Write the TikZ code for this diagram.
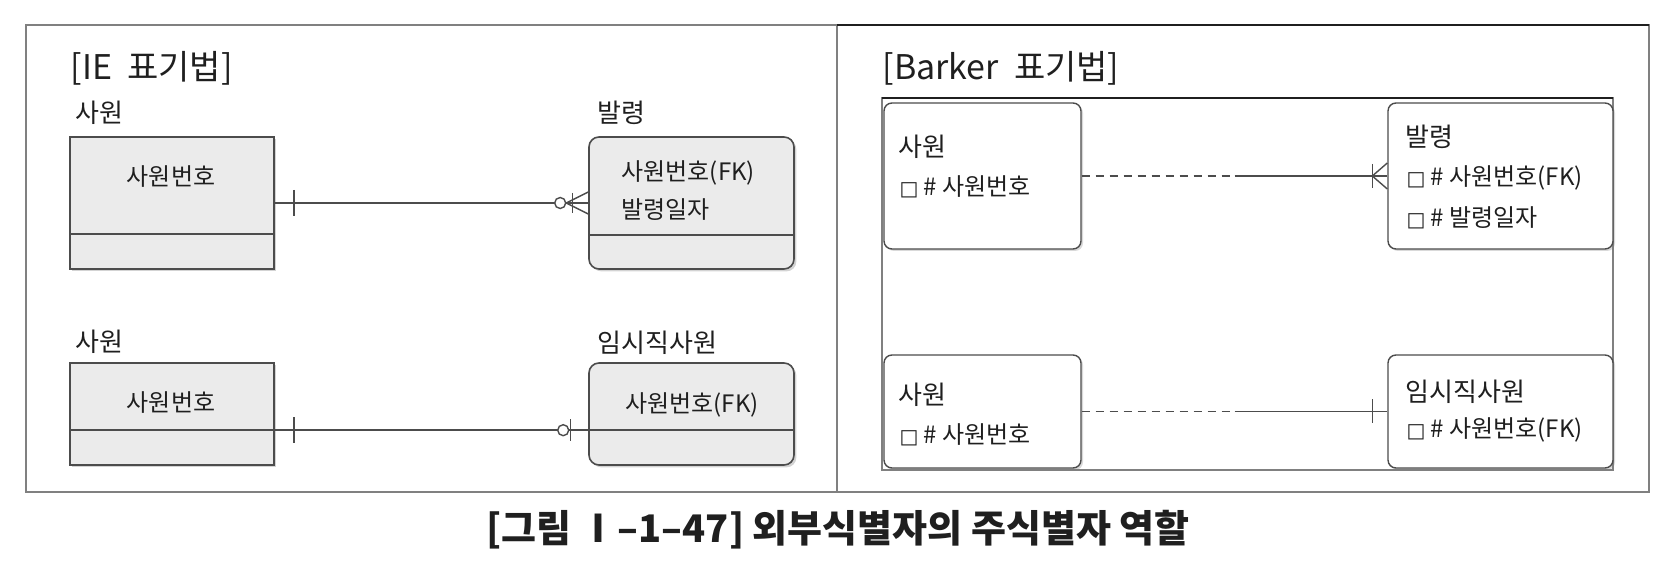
\documentclass[tikz,border=0pt]{standalone}
\usepackage{fontspec}
\setmainfont{Noto Sans CJK KR}
\newfontfamily\boxglyph{DejaVu Sans}
\usetikzlibrary{calc,positioning,shadows}
\definecolor{ink}{gray}{0.12}
\definecolor{edge}{gray}{0.30}
\definecolor{rule}{gray}{0.50}
\definecolor{shade}{gray}{0.92}
\newcommand{\opt}{{\boxglyph\fontsize{10}{12}\selectfont □}}

\tikzset{
  iebox/.style={draw=edge, fill=shade, line width=0.8pt, inner sep=0pt,
    minimum width=102pt, drop shadow={shadow xshift=1.2pt, shadow yshift=-1.2pt, opacity=0.35}},
  barkerbox/.style={draw=edge, fill=white, rounded corners=4pt, line width=0.7pt, inner sep=0pt,
    drop shadow={shadow xshift=1pt, shadow yshift=-1pt, opacity=0.3}},
  entname/.style={anchor=west, inner sep=0pt, font=\fontsize{13}{15}\selectfont, text=ink},
  attr/.style={inner sep=0pt, font=\fontsize{12}{14}\selectfont, text=ink},
  paneltitle/.style={anchor=west, inner sep=0pt, font=\fontsize{17}{20}\selectfont, text=ink},
  rel/.style={draw=edge, line width=0.7pt},
}

\begin{document}
\begin{tikzpicture}[x=0.5pt, y=-0.5pt, line width=0.6pt]
  \useasboundingbox (0,0) rectangle (1676,566);
  % outer frame
  \draw[rule] (26,25) rectangle (1649,492);
  \draw[rule] (837,25) -- (837,492);
  \draw[ink, line width=1.2pt] (837,25) -- (1649,25);

  % IE notation
  \node[paneltitle] (ietitle) at (70,68) {[IE\hspace{0.45em}표기법]};
  \node[entname] (emp1name) at (75,113) {사원};
  \node[entname] (issuename) at (597,113) {발령};
  \node[iebox, minimum height=66pt] (emp1) at (172,203) {};
  \node[iebox, minimum height=66pt, minimum width=102.5pt, rounded corners=5pt] (issue) at (691.5,203) {};
  \draw[edge, line width=0.8pt] ($(emp1.north west)+(0,98)$) -- ($(emp1.north east)+(0,98)$);
  \draw[edge, line width=0.8pt] ($(issue.north west)+(0,99)$) -- ($(issue.north east)+(0,99)$);
  \node[attr] (emp1key) at (171,177) {사원번호};
  \node[attr, align=left, anchor=west, font=\fontsize{12}{19}\selectfont] (issuekey) at (621,191) {사원번호(FK)\\발령일자};

  \node[entname] (emp2name) at (75,342) {사원};
  \node[entname] (tempname) at (597,343) {임시직사원};
  \node[iebox, minimum height=51pt] (emp2) at (172,414) {};
  \node[iebox, minimum height=51pt, minimum width=102.5pt, rounded corners=5pt] (temp) at (691.5,414) {};
  \coordinate (emp2split) at ($(emp2.north east)+(0,68)$);
  \coordinate (tempsplit) at ($(temp.north west)+(0,68)$);
  \draw[edge, line width=0.8pt] ($(emp2.north west)+(0,68)$) -- (emp2split);
  \draw[edge, line width=0.8pt] (tempsplit) -- ($(temp.north east)+(0,68)$);
  \node[attr] (emp2key) at (171,403) {사원번호};
  \node[attr] (tempkey) at (692,405) {사원번호(FK)};

  % IE relationships
  \draw[rel] (emp1) -- (issue);
  \draw[rel] ($(emp1.east)+(19,-13)$) -- ($(emp1.east)+(19,13)$);
  \draw[rel, fill=white] ($(issue.west)+(-28,0)$) circle (5.5);
  \draw[rel] ($(issue.west)+(-16,-10)$) -- ($(issue.west)+(-16,10)$);
  \draw[rel] ($(issue.west)+(0,-11)$) -- ($(issue.west)+(-22,0)$) -- ($(issue.west)+(0,11)$);

  \draw[rel] (emp2split) -- (tempsplit);
  \draw[rel] ($(emp2split)+(19,-13)$) -- ($(emp2split)+(19,13)$);
  \draw[rel, fill=white] ($(tempsplit)+(-25,0)$) circle (5.5);
  \draw[rel] ($(tempsplit)+(-18,-11)$) -- ($(tempsplit)+(-18,11)$);

  % Barker notation
  \node[paneltitle] (bktitle) at (882,68) {[Barker\hspace{0.45em}표기법]};
  \draw[rule] (882,98) rectangle (1613,470);
  \draw[ink, line width=1.2pt] (882,98) -- (1613,98);

  \node[barkerbox, minimum width=98.5pt, minimum height=73pt] (bemp1) at (982.5,176) {};
  \node[barkerbox, minimum width=112.5pt, minimum height=73pt] (bissue) at (1500.5,176) {};
  \node[barkerbox, minimum width=98.5pt, minimum height=56.5pt] (bemp2) at (982.5,411.5) {};
  \node[barkerbox, minimum width=112.5pt, minimum height=56.5pt] (btemp) at (1500.5,411.5) {};

  \node[entname] (bemp1name) at (898,147) {사원};
  \node[attr, anchor=west] (bemp1key) at (899,187) {\opt\ \# 사원번호};
  \node[entname] (bissuename) at (1405,137) {발령};
  \node[attr, anchor=west] (bissuekey) at (1406,178) {\opt\ \# 사원번호(FK)};
  \node[attr, anchor=west] (bissuedate) at (1406,218) {\opt\ \# 발령일자};
  \node[entname] (bemp2name) at (898,395) {사원};
  \node[attr, anchor=west] (bemp2key) at (899,435) {\opt\ \# 사원번호};
  \node[entname] (btempname) at (1405,392) {임시직사원};
  \node[attr, anchor=west] (btempkey) at (1406,430) {\opt\ \# 사원번호(FK)};

  % Barker relationships
  \coordinate (bmid1) at ($(bemp1.east)!0.5!(bissue.west)$);
  \coordinate (bmid2) at ($(bemp2.east)!0.5!(btemp.west)$);
  \draw[rel, dash pattern=on 4pt off 3pt] (bemp1) -- (bmid1);
  \draw[rel] (bmid1) -- (bissue);
  \draw[rel] ($(bissue.west)+(-15,-12)$) -- ($(bissue.west)+(-15,12)$);
  \draw[rel] ($(bissue.west)+(0,-13)$) -- ($(bissue.west)+(-15,0)$) -- ($(bissue.west)+(0,13)$);
  \draw[rel, dash pattern=on 4pt off 3pt] (bemp2) -- (bmid2);
  \draw[rel] (bmid2) -- (btemp);
  \draw[rel] ($(btemp.west)+(-15,-12)$) -- ($(btemp.west)+(-15,12)$);

  % caption
  \node[font=\bfseries\fontsize{19}{22}\selectfont, text=ink] (caption) at (838,530) {[그림 Ⅰ–1–47] 외부식별자의 주식별자 역할};
\end{tikzpicture}
\end{document}
